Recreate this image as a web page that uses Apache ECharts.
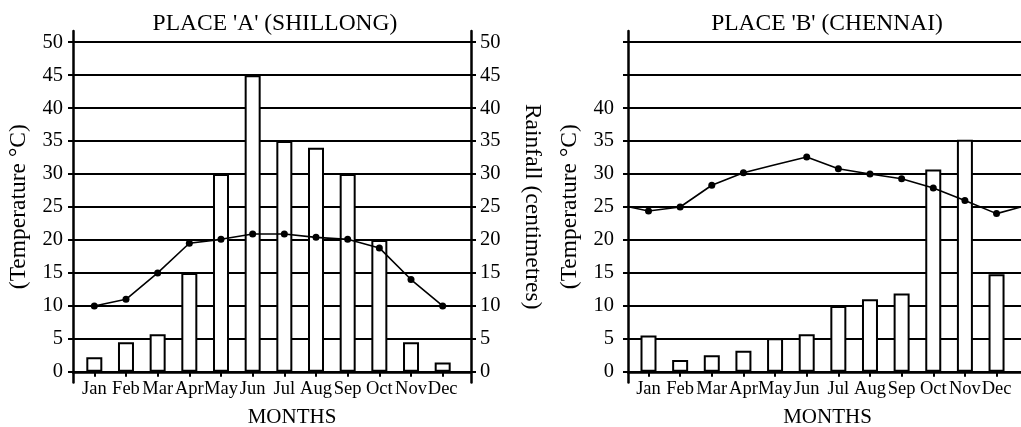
<!DOCTYPE html>
<html>
<head>
<meta charset="utf-8">
<script src="https://cdn.jsdelivr.net/npm/echarts@6/dist/echarts.min.js"></script>
<style>
  html, body { margin: 0; padding: 0; background: #fff; }
  #chart { width: 1021px; height: 427px; }
</style>
</head>
<body>
<div id="chart"></div>
<script>
// ---- data ----
const months = ['Jan','Feb','Mar','Apr','May','Jun','Jul','Aug','Sep','Oct','Nov','Dec'];
const shillongTemp = [10, 11, 15, 19.5, 20.1, 20.9, 20.9, 20.4, 20.1, 18.8, 14, 10];
const shillongRain = [2.2, 4.5, 5.7, 15, 30, 45, 35, 34, 30, 20, 4.5, 1.4];
const chennaiTemp = [24.4, 25, 28.3, 30.2, 31.4, 32.6, 30.8, 30, 29.3, 27.9, 26, 24];
const chennaiRain = [5.5, 1.8, 2.5, 3.2, 5.1, 5.7, 10, 11, 11.9, 30.7, 35.2, 14.8];
const chennaiTempEdges = [25.4, 25.3];          // line continues past the first / last month
const chennaiHiddenDots = ['May'];              // month without a visible dot
const yTicks = [0, 5, 10, 15, 20, 25, 30, 35, 40, 45, 50];
const chennaiYLabels = [0, 5, 10, 15, 20, 25, 30, 35, 40];

// ---- helpers ----
const FONT = 'Liberation Serif';
const monthPos = months.map((m, i) => i + 1);
const pairs = (arr) => arr.map((v, i) => [i + 1, v]);

function xAxisCfg(gridIndex, min, max, namePad) {
  return {
    gridIndex, type: 'value', min, max,
    axisLine: { show: true, onZero: true, lineStyle: { color: '#000', width: 2.5 } },
    axisTick: { show: true, customValues: monthPos, length: 5, lineStyle: { color: '#000', width: 2 } },
    axisLabel: {
      customValues: monthPos, margin: -3, color: '#000', fontFamily: FONT, fontSize: 18.5,
      formatter: (v) => months[Math.round(v) - 1]
    },
    splitLine: { show: false },
    name: 'MONTHS', nameLocation: 'middle', nameGap: 25,
    nameTextStyle: { color: '#000', fontFamily: FONT, fontSize: 21, padding: namePad }
  };
}

function yAxisCfg(gridIndex, position, labels, name, nameGap, nameRotate, margin, showSplit) {
  return {
    gridIndex, type: 'value', min: -1.6, max: 51.7, position,
    axisLine: { show: true, onZero: false, lineStyle: { color: '#000', width: 2.5 } },
    axisTick: { show: true, customValues: yTicks, length: 5, lineStyle: { color: '#000', width: 2 } },
    axisLabel: { customValues: labels, margin, color: '#000', fontFamily: FONT, fontSize: 20.5 },
    splitLine: { show: showSplit, lineStyle: { color: '#000', width: 2 } },
    name, nameLocation: 'middle', nameGap, nameRotate,
    nameTextStyle: { color: '#000', fontFamily: FONT, fontSize: 23.5 }
  };
}

const barStyle = { color: '#fff', borderColor: '#000', borderWidth: 2 };
const lineStyle = { color: '#000', width: 1.6 };

const chennaiLineData = [{ value: [0, chennaiTempEdges[0]], symbol: 'none' }]
  .concat(chennaiTemp.map((v, i) => chennaiHiddenDots.includes(months[i])
    ? { value: [i + 1, v], symbol: 'none' } : { value: [i + 1, v] }))
  .concat([{ value: [13, chennaiTempEdges[1]], symbol: 'none' }]);

const option = {
  animation: false,
  backgroundColor: '#fff',
  textStyle: { fontFamily: FONT, color: '#000' },
  title: [
    { text: "PLACE 'A' (SHILLONG)", left: 270, top: 7, textAlign: 'center',
      textStyle: { fontFamily: FONT, fontWeight: 'normal', fontSize: 23.5, color: '#000' } },
    { text: "PLACE 'B' (CHENNAI)", left: 822, top: 7, textAlign: 'center',
      textStyle: { fontFamily: FONT, fontWeight: 'normal', fontSize: 23.5, color: '#000' } }
  ],
  grid: [
    { left: 73, right: 550, top: 31, height: 351.4, containLabel: false, outerBoundsMode: 'none' },
    { left: 628, right: 0, top: 31, height: 351.4, containLabel: false, outerBoundsMode: 'none' }
  ],
  xAxis: [
    xAxisCfg(0, 0.327, 12.894, [0, 0, 0, 40]),
    xAxisCfg(1, 0.352, 12.773, [0, 0, 0, 6])
  ],
  yAxis: [
    yAxisCfg(0, 'left', yTicks, '(Temperature °C)', 42, 90, 10, true),
    yAxisCfg(0, 'right', yTicks, 'Rainfall (centimetres)', 49, -90, 9, false),
    yAxisCfg(1, 'left', chennaiYLabels, '(Temperature °C)', 46, 90, 14, true)
  ],
  series: [
    { type: 'bar', name: 'Rainfall A', xAxisIndex: 0, yAxisIndex: 1, barWidth: 16,
      itemStyle: barStyle, data: pairs(shillongRain), z: 2 },
    { type: 'line', name: 'Temperature A', xAxisIndex: 0, yAxisIndex: 0,
      symbol: 'circle', symbolSize: 7, itemStyle: { color: '#000' }, lineStyle,
      data: pairs(shillongTemp), z: 3 },
    { type: 'bar', name: 'Rainfall B', xAxisIndex: 1, yAxisIndex: 2, barWidth: 16,
      itemStyle: barStyle, data: pairs(chennaiRain), z: 2 },
    { type: 'line', name: 'Temperature B', xAxisIndex: 1, yAxisIndex: 2,
      symbol: 'circle', symbolSize: 7, itemStyle: { color: '#000' }, lineStyle,
      clip: true, data: chennaiLineData, z: 3 }
  ]
};

const chart = echarts.init(document.getElementById('chart'), null, { renderer: 'canvas' });
chart.setOption(option);
</script>
</body>
</html>
